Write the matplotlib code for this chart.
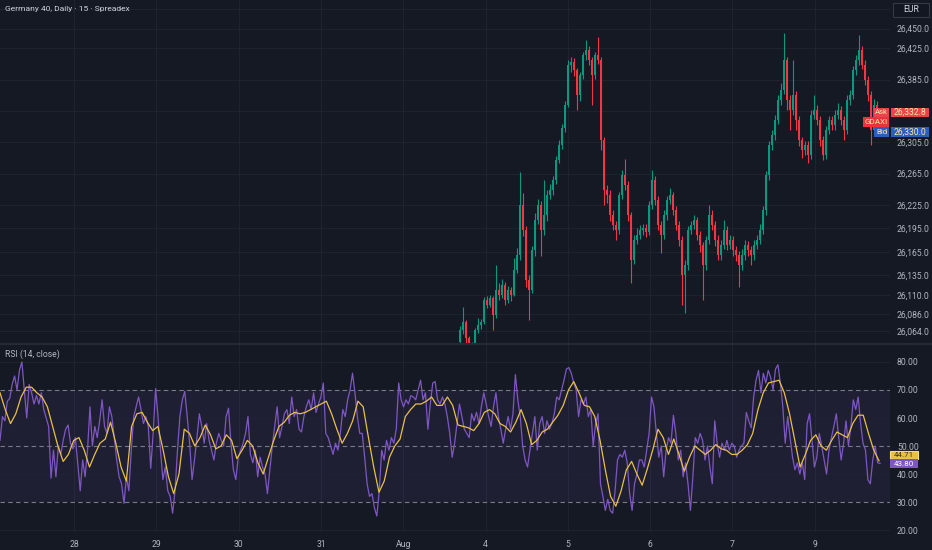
import numpy as np
import matplotlib.pyplot as plt
from matplotlib.patches import Rectangle

plt.rcParams['font.family'] = ['Roboto', 'DejaVu Sans']

# ---- price data (15 min candles, visible part) ----
first_open = 26050
closes = [
    26065, 26075, 26055, 26042, 26046, 26065, 26072, 26075, 26103, 26097,
    26106, 26084, 26116, 26110, 26123, 26103, 26116, 26110, 26142, 26161,
    26225, 26193, 26129, 26116, 26167, 26206, 26225, 26193, 26212, 26238,
    26244, 26257, 26282, 26301, 26323, 26353, 26404, 26407, 26397, 26365,
    26391, 26416, 26423, 26410, 26391, 26416, 26410, 26308, 26244, 26238,
    26212, 26199, 26193, 26238, 26263, 26250, 26212, 26155, 26180, 26187,
    26193, 26195, 26190, 26225, 26257, 26231, 26199, 26187, 26212, 26231,
    26238, 26218, 26199, 26180, 26135, 26148, 26193, 26199, 26206, 26187,
    26174, 26148, 26180, 26212, 26199, 26180, 26161, 26174, 26193, 26174,
    26180, 26167, 26161, 26148, 26161, 26174, 26167, 26161, 26174, 26180,
    26193, 26218, 26263, 26301, 26314, 26333, 26359, 26372, 26410, 26359,
    26346, 26365, 26333, 26308, 26295, 26301, 26289, 26340, 26346, 26333,
    26308, 26289, 26321, 26333, 26327, 26340, 26346, 26333, 26321, 26359,
    26365, 26397, 26410, 26423, 26404, 26384, 26365, 26321, 26353, 26331,
]
highs = [
    26070, 26094, 26078, 26058, 26050, 26068, 26080, 26079, 26107, 26108,
    26110, 26108, 26148, 26125, 26130, 26127, 26122, 26120, 26157, 26170,
    26267, 26240, 26198, 26135, 26172, 26215, 26232, 26230, 26257, 26244,
    26252, 26262, 26287, 26308, 26328, 26357, 26410, 26414, 26412, 26400,
    26395, 26420, 26435, 26428, 26414, 26420, 26439, 26414, 26312, 26250,
    26244, 26218, 26205, 26242, 26270, 26283, 26255, 26216, 26186, 26195,
    26199, 26201, 26200, 26230, 26270, 26262, 26236, 26205, 26218, 26236,
    26247, 26242, 26223, 26205, 26185, 26155, 26198, 26205, 26212, 26210,
    26192, 26178, 26185, 26225, 26218, 26204, 26186, 26180, 26206, 26198,
    26186, 26185, 26172, 26166, 26168, 26180, 26179, 26172, 26180, 26186,
    26200, 26224, 26268, 26306, 26320, 26340, 26365, 26380, 26444, 26414,
    26365, 26410, 26370, 26338, 26312, 26306, 26306, 26346, 26365, 26352,
    26338, 26313, 26326, 26339, 26338, 26346, 26355, 26351, 26338, 26365,
    26372, 26402, 26416, 26442, 26428, 26410, 26390, 26370, 26360, 26358,
]
lows = [
    26046, 26060, 26048, 26035, 26038, 26044, 26062, 26066, 26073, 26093,
    26094, 26065, 26080, 26104, 26106, 26097, 26100, 26102, 26108, 26138,
    26155, 26185, 26120, 26078, 26112, 26160, 26200, 26160, 26186, 26205,
    26232, 26238, 26252, 26278, 26296, 26318, 26350, 26395, 26390, 26346,
    26358, 26386, 26410, 26404, 26353, 26386, 26405, 26295, 26225, 26227,
    26205, 26193, 26180, 26188, 26232, 26244, 26205, 26125, 26150, 26175,
    26182, 26186, 26184, 26186, 26220, 26225, 26193, 26163, 26182, 26206,
    26226, 26212, 26193, 26172, 26097, 26087, 26142, 26188, 26194, 26180,
    26165, 26103, 26142, 26175, 26193, 26173, 26154, 26155, 26168, 26167,
    26168, 26160, 26153, 26120, 26142, 26155, 26160, 26148, 26155, 26168,
    26175, 26188, 26212, 26257, 26295, 26308, 26328, 26352, 26366, 26346,
    26320, 26340, 26320, 26300, 26285, 26289, 26279, 26284, 26335, 26327,
    26300, 26282, 26284, 26315, 26321, 26321, 26335, 26327, 26308, 26315,
    26352, 26360, 26391, 26404, 26398, 26378, 26358, 26301, 26315, 26325,
]

# ---- RSI (14, close) and its moving average ----
rsi = [
    52, 60.5, 59, 66, 67, 72, 75, 70, 77, 80,
    70, 60, 72, 69, 65, 68, 65, 69, 63, 60,
    57, 38.5, 48.5, 39, 50, 47, 52, 56, 57.5, 51,
    49, 53, 43.5, 34, 45, 39, 48.5, 64, 50, 57,
    53, 59, 66.5, 57, 54.5, 64, 60.5, 53, 45, 39,
    36.5, 29.5, 39, 34, 48.5, 60.5, 64, 67.5, 63, 58,
    60.5, 57, 42, 54.5, 70.5, 60.5, 48.5, 38, 42.5, 34,
    32, 26, 34, 48.5, 60.5, 66.5, 69.5, 60.5, 51, 38,
    45, 53, 61.5, 57, 51, 58, 52, 48.5, 45, 51,
    54.5, 52, 50, 60.5, 63.5, 51, 41.5, 38, 46, 48.5,
    51, 54.5, 60.5, 47, 44, 48.5, 39, 46, 42.5, 40,
    33, 41.5, 50, 57, 64, 53, 57, 61.5, 63, 58,
    67.5, 60.5, 63, 56,
    55, 60.5, 64, 66.5, 63, 69, 62, 65, 67.5, 72.5,
    54.5, 53, 50, 47, 51, 48.5, 54.5, 63, 60.5, 66.5,
    70, 76, 69, 60.5, 54.5, 54.5, 46, 36.5, 32, 33,
    28, 25, 34, 48.5, 45, 52, 48.5, 53, 51, 56,
    72.5, 66.5, 64, 66.5, 65, 68, 67.5, 66.5, 70, 73.5,
    66.5, 69, 56, 65, 72.5, 73, 66.5, 65, 67.5, 65,
    60.5, 54.5, 46, 51, 58, 65, 60.5, 56, 54.5, 53,
    61.5, 59, 62, 58, 64, 69, 65, 60.5, 57, 64,
    69, 60.5, 56, 51, 56, 60.5, 56, 61.5, 75.5, 66.5,
    60.5, 50, 45, 42.5, 48.5, 54.5, 60.5, 48.5, 58, 60.5,
    54.5, 59, 56, 58, 61.5, 67.5, 66.5, 70, 73.5, 77.5,
    78, 76, 72.5, 70, 60.5, 66.5, 65, 67.5, 60.5, 63,
    50, 58,
    61.5, 36.5, 32, 27, 31, 27, 26, 34, 45, 47,
    46, 48.5, 44, 33, 27, 36.5, 40, 45, 45, 42.5,
    48.5, 54.5, 67.5, 64, 54.5, 46, 50, 39, 48.5, 53,
    51, 61, 54.5, 45, 48.5, 39, 44, 36.5, 27, 39,
    53, 51, 54.5, 52, 45, 50, 42.5, 36.5, 59, 51,
    46, 51, 48.5, 52, 48.5, 51, 50, 46, 48.5, 50,
    51, 62, 59, 56.5, 67.5, 73.5, 77, 69, 76, 72.5,
    77, 74.5, 70, 77.5, 79, 72.5, 64, 51, 60.5, 53,
    46, 41.5, 44, 40, 44, 38, 58, 61.5, 52, 42.5,
    46, 54.5, 50, 45, 40, 48.5, 53, 57, 61.5, 53,
    45, 51, 59, 50, 57, 66.5, 63, 67.5, 58, 51,
    48.5, 38, 36.5, 45, 50, 44, 43.80,
]
rsi_ma = [
    69, 63, 58, 61.5, 67.5, 71, 71, 69, 67.5, 64,
    57, 50, 44.5, 47, 52, 53, 48.5, 42.5, 47, 51,
    52.5, 58.5, 51, 42.5, 37.5, 57, 61.5, 62, 58.5, 55.5,
    57, 48.5, 39, 33, 40, 56, 54.5, 50, 53, 57.5,
    54, 49, 50, 54, 52, 45.5, 48.5, 52, 50, 44,
    40, 46, 52, 57, 58.5, 61, 62,
    61.5, 62, 63, 64, 65, 66, 61.5, 56, 51, 54.5,
    59, 66, 64, 53, 42.5, 33.5, 37.5, 46, 50, 52.5,
    60.5, 63, 65, 65, 66, 67.5, 64.5, 64.5, 67.5, 64.5,
    57.5, 57, 56.5, 55.5, 58, 62, 63, 61.5, 58, 57,
    55, 58.5, 63, 58, 50.5, 52, 55, 56, 58.5, 61,
    64.5, 70, 73, 69, 64.5, 64, 60.5,
    52, 41.5, 32, 28.5, 34, 41.5, 44.5, 40, 36, 42,
    48.5, 56, 53, 47, 52.5, 47, 41, 46, 50, 48.5,
    47, 48.5, 50.5, 49, 48.5, 47, 47, 48.5, 50.5, 54.5,
    63, 69, 72.5, 73, 73.5, 69, 61.5, 52, 42.5, 47,
    52, 54, 50, 48.5, 52, 55, 54, 53, 58, 61,
    61, 54.5, 48.5, 44.71,
]

day_labels = ['28', '29', '30', '31', 'Aug', '4', '5', '6', '7', '9']
price_ticks = [26475, 26450, 26425, 26385, 26345, 26305, 26265, 26225,
               26195, 26165, 26135, 26110, 26086, 26064]
hidden_ticks = [26475, 26345]
rsi_ticks = [20, 30, 40, 50, 60, 70, 80]

ask_price = 26332.8
bid_price = 26330.0

# ---- style ----
BG = '#151924'
GRID = '#202431'
TXT = '#b2b5be'
UP = '#089981'
DOWN = '#f23645'
PURPLE = '#7e57c2'
YELLOW = '#e9c046'
W, H = 932, 550
FS = 6.2

BARS_PER_DAY = 96
day_pos = np.arange(len(day_labels)) * BARS_PER_DAY
x_min, x_max = -86.3, 951.8

fig = plt.figure(figsize=(W / 100, H / 100), dpi=100)
fig.patch.set_facecolor(BG)

ax = fig.add_axes([0, 1 - 343 / H, 890 / W, 343 / H])
ax2 = fig.add_axes([0, 1 - 532 / H, 890 / W, (532 - 345) / H])

for a in (ax, ax2):
    a.set_facecolor(BG)
    for s in a.spines.values():
        s.set_visible(False)
    a.set_xlim(x_min, x_max)
    a.set_xticks(day_pos)
    a.yaxis.tick_right()
    a.tick_params(length=0, colors=TXT, labelsize=FS)
    for p in day_pos:
        a.axvline(p, color=GRID, lw=0.7, zorder=0)

# candles
closes = np.array(closes, dtype=float)
highs = np.array(highs, dtype=float)
lows = np.array(lows, dtype=float)
opens = np.r_[first_open, closes[:-1]]
t = np.linspace(450, 937, len(closes))
col = np.where(closes >= opens, UP, DOWN)
ax.vlines(t, lows, highs, colors=col, lw=0.8, zorder=3)
body = np.maximum(np.abs(closes - opens), 0.8)
ax.bar(t, body, bottom=np.minimum(opens, closes), width=2.0, color=col,
       zorder=4, linewidth=0)

ax.set_ylim(26048.6, 26486.6)
ax.set_yticks(price_ticks)
ax.set_yticklabels(['' if v in hidden_ticks else f'{v:,.1f}' for v in price_ticks])
for v in price_ticks:
    ax.axhline(v, color=GRID, lw=0.7, zorder=0)
ax.set_xticklabels([])
ax.tick_params(axis='y', pad=5)

# RSI pane
t_rsi = np.linspace(-86.3, 940.2, len(rsi))
t_ma = np.linspace(-86.3, 939.0, len(rsi_ma))
ax2.axhspan(30, 70, color=PURPLE, alpha=0.1, lw=0, zorder=0)
for v in (20, 40, 60, 80):
    ax2.axhline(v, color=GRID, lw=0.7, zorder=0)
for v in (30, 50, 70):
    ax2.axhline(v, color='#787b86', lw=0.8, ls=(0, (4, 3)), zorder=1)
ax2.plot(t_rsi, rsi, color=PURPLE, lw=0.9, zorder=3)
ax2.plot(t_ma, rsi_ma, color=YELLOW, lw=0.9, zorder=4)
ax2.set_ylim(19.29, 86.07)
ax2.set_yticks(rsi_ticks)
ax2.set_yticklabels([f'{v:.2f}' for v in rsi_ticks])
ax2.set_xticklabels(day_labels)
ax2.tick_params(axis='y', pad=5)
ax2.tick_params(axis='x', pad=6)

# pane separator
fig.add_artist(plt.Line2D([0, 1], [1 - 343.5 / H] * 2, transform=fig.transFigure,
                          color='#2a2e39', lw=1.2))

# titles
fig.text(5 / W, 1 - 9.5 / H, 'Germany 40, Daily · 15 · Spreadex', color='#d1d4dc',
         fontsize=6.0, va='center', ha='left')
ax2.text(5 / 890, 1 - 9 / 187, 'RSI (14, close)', transform=ax2.transAxes,
         color=TXT, fontsize=6.2, va='center', ha='left')


def tag(x0, y0, x1, y1, text, fc, tc, ec='none', size=FS):
    fig.patches.append(Rectangle((x0 / W, 1 - y1 / H), (x1 - x0) / W, (y1 - y0) / H,
                                 transform=fig.transFigure, fc=fc, ec=ec, lw=0.8,
                                 zorder=5))
    fig.text((x0 + x1) / 2 / W, 1 - (y0 + y1) / 2 / H, text, color=tc,
             fontsize=size, ha='center', va='center', zorder=6)


tag(893, 3, 929, 17, 'EUR', '#131722', '#d1d4dc', ec='#363a45')
tag(874, 108, 889, 117, 'Ask', '#e8434f', '#fbe7a6', size=5.6)
tag(891, 108, 929, 117, f'{ask_price:,.1f}', '#e8434f', '#fbe7a6')
tag(863, 117, 889, 127, 'GDAXI', '#e8343f', '#fbe7a6', size=5.8)
tag(874, 127, 889, 137, 'Bid', '#2a5fbf', '#fbe7a6', size=5.6)
tag(891, 127, 929, 137, f'{bid_price:,.1f}', '#2a5fbf', '#fbe7a6')
tag(890, 451, 918, 459, f'{rsi_ma[-1]:.2f}', '#e9c046', '#3a3320', ec='#f5dc8a',
    size=5.8)
tag(890, 459, 918, 468, f'{rsi[-1]:.2f}', PURPLE, '#ffffff', size=5.8)

fig.savefig('out.png', dpi=100, facecolor=BG)
